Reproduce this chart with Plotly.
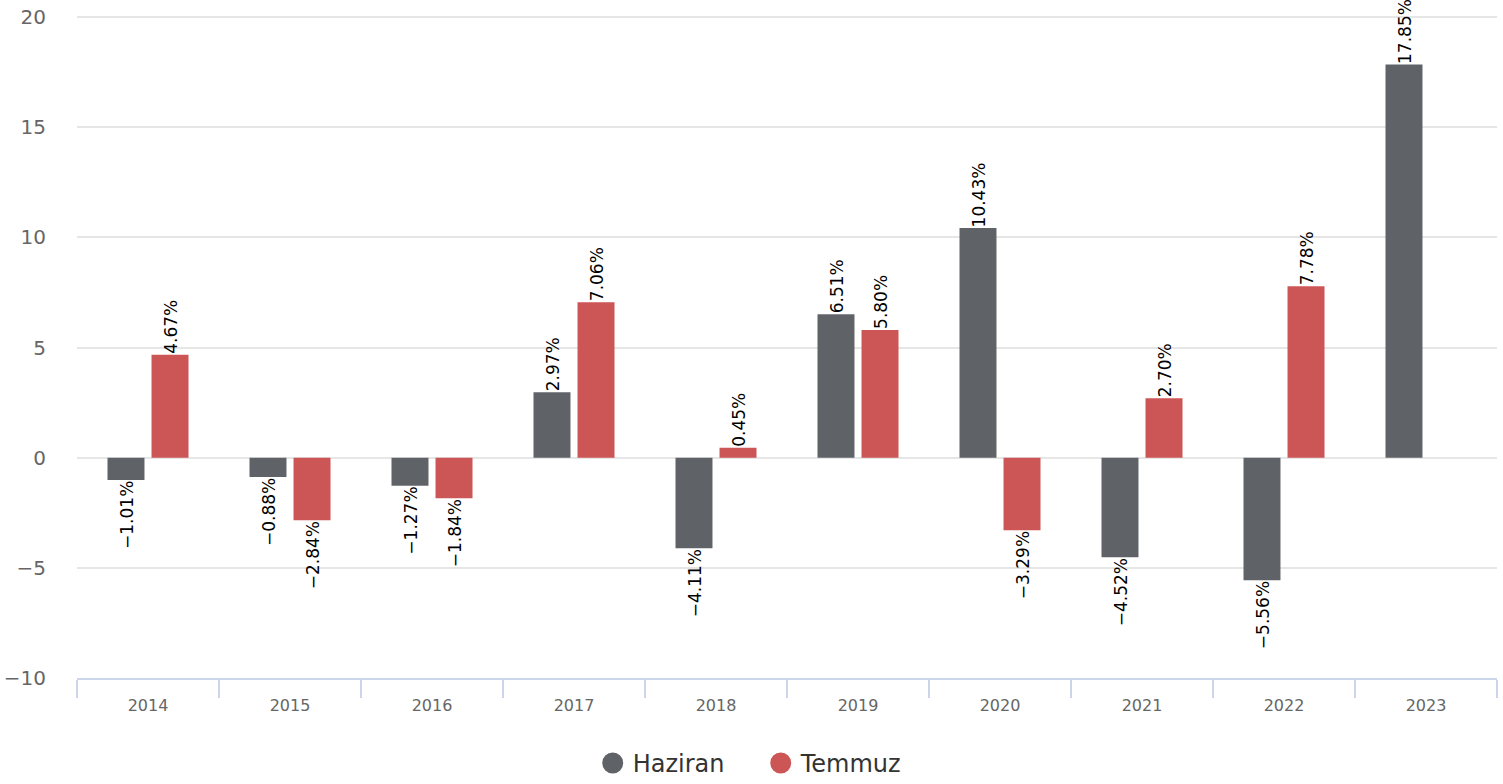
import plotly.graph_objects as go

years = ["2014", "2015", "2016", "2017", "2018", "2019", "2020", "2021", "2022", "2023"]
haziran = [-1.01, -0.88, -1.27, 2.97, -4.11, 6.51, 10.43, -4.52, -5.56, 17.85]
temmuz = [4.67, -2.84, -1.84, 7.06, 0.45, 5.80, -3.29, 2.70, 7.78, None]
series_names = ["Haziran", "Temmuz"]
series_colors = ["#5f6368", "#cc5555"]
y_ticks = [-10, -5, 0, 5, 10, 15, 20]

W, H = 1503, 784
margin = dict(l=77, r=6, t=16, b=106, autoexpand=False)
bargap, bargroupgap = 0.38, 0.16
cat_px = (W - margin["l"] - margin["r"]) / len(years)
slot_px = cat_px * (1 - bargap) / 2


def fmt(v):
    s = f"{v:.2f}%"
    return s.replace("-", "\u2212")


fig = go.Figure()
for name, vals, col in zip(series_names, [haziran, temmuz], series_colors):
    fig.add_trace(go.Bar(x=years, y=vals, name=name, marker=dict(color=col, line=dict(width=0)),
                         showlegend=False, cliponaxis=False))
for name, col in zip(series_names, series_colors):
    fig.add_trace(go.Scatter(x=[years[0]], y=[None], mode="markers", name=name,
                             marker=dict(color=col, size=24, symbol="circle",
                                         line=dict(color=col, width=5))))

for i, vals in enumerate([haziran, temmuz]):
    shift = (i - 0.5) * slot_px
    for j, v in enumerate(vals):
        if v is None:
            continue
        fig.add_annotation(x=j, y=v, xref="x", yref="y", text=fmt(v), showarrow=False,
                           textangle=-90, xshift=shift + 1, xanchor="center",
                           yanchor="bottom" if v >= 0 else "top",
                           font=dict(family="DejaVu Sans", size=17, color="#000000"),
                           borderpad=0)

fig.update_layout(
    width=W, height=H, margin=margin,
    paper_bgcolor="white", plot_bgcolor="white",
    barmode="group", bargap=bargap, bargroupgap=bargroupgap,
    font=dict(family="DejaVu Sans", color="#666666"),
    legend=dict(orientation="h", x=0.4815, xanchor="center", y=-0.129, yanchor="middle",
                font=dict(size=24, color="#333333"), itemwidth=30,
                entrywidth=123, entrywidthmode="pixels"),
)
fig.update_xaxes(type="category", categoryorder="array", categoryarray=years,
                 range=[-0.5, len(years) - 0.5], automargin=False,
                 showline=True, linecolor="#ccd6eb", linewidth=2,
                 ticks="outside", tickson="boundaries", ticklen=18, tickwidth=2,
                 tickcolor="#ccd6eb", tickfont=dict(size=16, color="#666666"),
                 showgrid=False, ticklabelstandoff=12)
fig.update_yaxes(range=[-10, 20.05], tickvals=y_ticks, showgrid=True, gridcolor="#e6e6e6",
                 gridwidth=2, zeroline=False, tickfont=dict(size=20, color="#666666"),
                 ticklabelstandoff=30, automargin=False)

fig.write_html("out.html", config={"displayModeBar": False},
               post_script="document.body.style.margin='0';")
